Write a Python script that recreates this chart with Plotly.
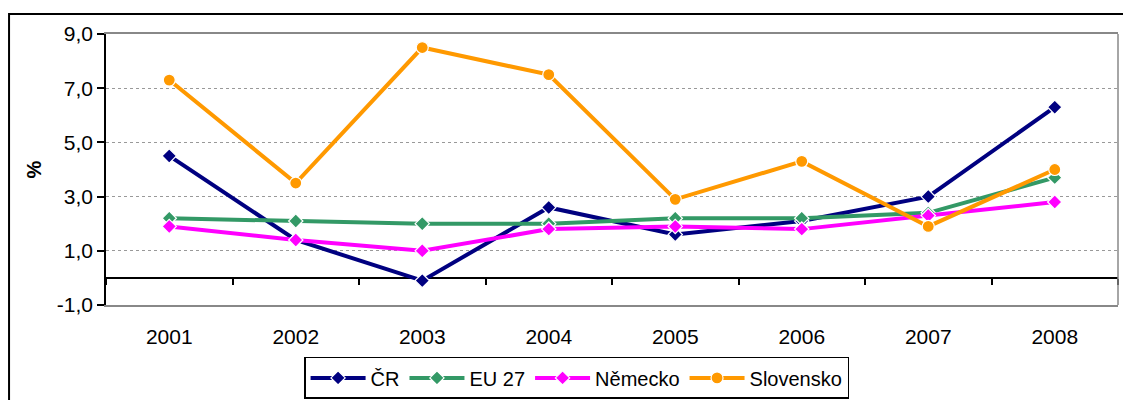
import plotly.graph_objects as go

years = ["2001", "2002", "2003", "2004", "2005", "2006", "2007", "2008"]
cr = [4.5, 1.4, -0.1, 2.6, 1.6, 2.1, 3.0, 6.3]
eu27 = [2.2, 2.1, 2.0, 2.0, 2.2, 2.2, 2.4, 3.7]
nemecko = [1.9, 1.4, 1.0, 1.8, 1.9, 1.8, 2.3, 2.8]
slovensko = [7.3, 3.5, 8.5, 7.5, 2.9, 4.3, 1.9, 4.0]
y_ticks = [-1, 1, 3, 5, 7, 9]
y_ticktext = [f"{v:.1f}".replace(".", ",") for v in y_ticks]

series = [
    ("ČR", cr, "#000080", "diamond", 11),
    ("EU 27", eu27, "#339966", "diamond", 11),
    ("Německo", nemecko, "#FF00FF", "diamond", 11),
    ("Slovensko", slovensko, "#FF9900", "circle", 12),
]

fig = go.Figure()
for name, vals, col, sym, sz in series:
    fig.add_trace(go.Scatter(
        x=years, y=vals, name=name, mode="lines+markers",
        line=dict(color=col, width=4),
        marker=dict(symbol=sym, size=sz, color=col, line=dict(color="white", width=1.2)),
    ))

# helper trace for the tick marks on the zero line
fig.add_trace(go.Scatter(x=years, y=[None] * len(years), xaxis="x2", showlegend=False,
                         hoverinfo="skip", mode="lines"))

font = dict(family="Liberation Sans, Arial, sans-serif", size=21, color="black")

fig.update_layout(
    width=1123, height=392,
    margin=dict(l=98, r=13, t=26, b=95),
    paper_bgcolor="white", plot_bgcolor="white",
    font=font,
    separators=", ",
    showlegend=True,
    legend=dict(orientation="h", x=0.465, xanchor="center",
                yref="container", y=0.11, yanchor="top",
                bordercolor="black", borderwidth=1.5, font=dict(size=20),
                itemwidth=55, tracegroupgap=0),
    xaxis=dict(type="category", categoryorder="array", categoryarray=years,
               range=[-0.5, 7.5], showgrid=False, showline=True, linecolor="#888888",
               linewidth=1.5, mirror=True, ticks="", ticklabelstandoff=12, zeroline=False,
               automargin=False),
    xaxis2=dict(type="category", categoryorder="array", categoryarray=years,
                range=[-0.5, 7.5], overlaying="x", anchor="free", position=0.1,
                side="bottom", showticklabels=False, ticks="outside", tickson="boundaries",
                ticklen=6, tickwidth=1.5, tickcolor="black", showline=False, showgrid=False,
                zeroline=False, automargin=False),
    yaxis=dict(range=[-1, 9], tickvals=y_ticks, ticktext=y_ticktext,
               showgrid=True, gridcolor="#999999", griddash="dot", gridwidth=1,
               zeroline=True, zerolinecolor="black", zerolinewidth=1.5,
               showline=True, linecolor="black", linewidth=1.5,
               ticks="outside", ticklen=7, tickwidth=1.5, tickcolor="black",
               automargin=False,
               title=dict(text="<b>%</b>", font=dict(size=20), standoff=10)),
    shapes=[
        dict(type="line", xref="paper", yref="paper", x0=1, x1=1, y0=0, y1=1,
             line=dict(color="#888888", width=1.5)),
        dict(type="rect", xref="paper", yref="paper", x0=-0.0958, x1=1.05, y0=-0.6, y1=1.0735,
             line=dict(color="black", width=2)),
    ],
)

fig.write_html("out.html")
